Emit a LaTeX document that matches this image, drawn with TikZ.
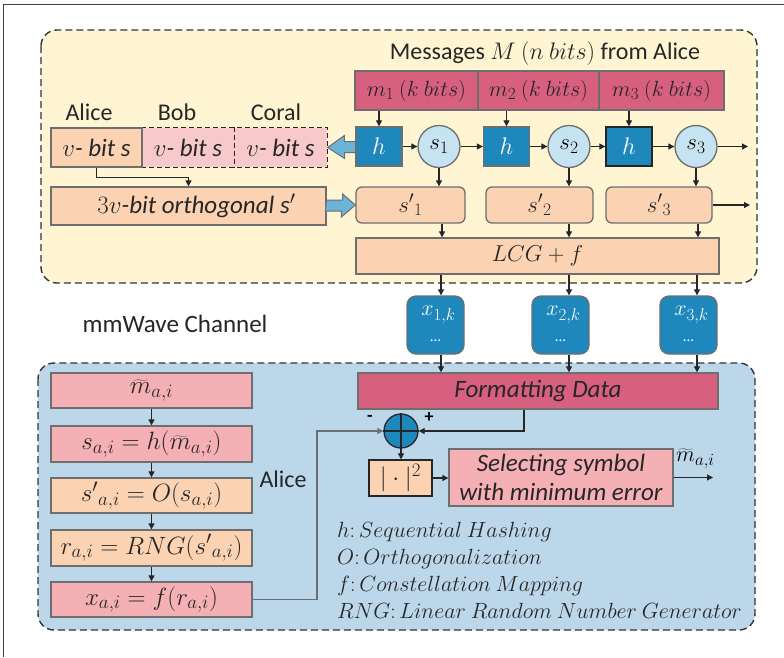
\RequirePackage{fix-cm}
\documentclass[tikz,border=0pt]{standalone}
\usepackage[no-math]{fontspec}
\setmainfont{Carlito}
\usetikzlibrary{arrows.meta,calc}
\DeclareMathSizes{22}{22}{17}{13}
\DeclareMathSizes{23}{23}{17.5}{13}
\DeclareMathSizes{24}{24}{18}{14}
\DeclareMathSizes{25}{25}{19}{15}
\definecolor{yellowbg}{HTML}{FFF5D3}
\definecolor{bluebg}{HTML}{BDD7EA}
\definecolor{rasp}{HTML}{D6607E}
\definecolor{pinkf}{HTML}{F4B0B5}
\definecolor{peach}{HTML}{FBD3B3}
\definecolor{hblue}{HTML}{1E88BC}
\definecolor{circf}{HTML}{C6E3F1}
\definecolor{blockf}{HTML}{6CB4D7}
\definecolor{bgray}{HTML}{6E6E6E}
\definecolor{bobf}{HTML}{F8C9CB}
\tikzset{
  bx/.style={draw=bgray, line width=1.3pt, inner sep=0pt, anchor=center, text=black!85, font=\fontsize{22}{26}\selectfont},
  big/.style={font=\fontsize{25}{29}\selectfont},
  rbx/.style={bx, rounded corners=6pt},
  sc/.style={circle, draw=bgray, line width=1.3pt, fill=circf, minimum size=42pt, inner sep=0pt, font=\fontsize{23}{26}\selectfont},
  arr/.style={-{Triangle[length=6pt,width=6pt]}, line width=1.1pt, draw=black!85},
  arrg/.style={-{Triangle[length=6pt,width=6pt]}, line width=1.1pt, draw=bgray},
  lbl/.style={inner sep=0pt, font=\fontsize{24}{28}\selectfont, text=black!85},
  region/.style={draw=black!80, dashed, dash pattern=on 7pt off 4pt, line width=1.4pt, rounded corners=16pt},
}
\begin{document}
\begin{tikzpicture}[x=1pt,y=-1pt]
\useasboundingbox (0,0) rectangle (784,657);
% frame
\draw[line width=1pt, black!75] (3,657) -- (3,4) -- (784,4);
% regions
\draw[region, fill=yellowbg] (41,30) rectangle (757,283);
\draw[region, fill=bluebg] (38,363) rectangle (755,630);

% top
\node[lbl] (msg) at (545,53) {Messages $M\ (n\ bits)$ from Alice};
\node[bx, fill=rasp, minimum width=123pt, minimum height=39pt] (m1) at (416.5,90.5) {$m_1\ (k\ bits)$};
\node[bx, fill=rasp, minimum width=121pt, minimum height=39pt] (m2) at (538.5,90.5) {$m_2\ (k\ bits)$};
\node[bx, fill=rasp, minimum width=125pt, minimum height=39pt] (m3) at (661.5,90.5) {$m_3\ (k\ bits)$};

\node[bx, fill=hblue, text=white, minimum width=46pt, minimum height=39pt, font=\fontsize{24}{28}\selectfont] (h1) at (379,146.5) {$h$};
\node[bx, fill=hblue, text=white, minimum width=46pt, minimum height=39pt, font=\fontsize{24}{28}\selectfont] (h2) at (506.5,146.5) {$h$};
\node[bx, draw=black!85, fill=hblue, text=white, minimum width=46pt, minimum height=39pt, font=\fontsize{24}{28}\selectfont] (h3) at (629,146.5) {$h$};
\node[sc] (s1) at (439,146.5) {$s_1$};
\node[sc] (s2) at (569,146.5) {$s_2$};
\node[sc] (s3) at (696,146.5) {$s_3$};
\coordinate (sout) at (748,146.5);

\node[rbx, fill=peach, minimum width=109pt, minimum height=36pt, font=\fontsize{23}{26}\selectfont] (sp1) at (410.5,205) {${s'}_1$};
\node[rbx, fill=peach, minimum width=107pt, minimum height=36pt, font=\fontsize{23}{26}\selectfont] (sp2) at (539.5,205) {${s'}_2$};
\node[rbx, fill=peach, minimum width=106pt, minimum height=36pt, font=\fontsize{23}{26}\selectfont] (sp3) at (659,205) {${s'}_3$};
\coordinate (spout) at (750,205);

\node[bx, fill=peach, minimum width=363pt, minimum height=36pt, font=\fontsize{23}{26}\selectfont] (lcg) at (537.5,256) {$LCG+f$};

% Alice Bob Coral
\node[lbl] (la) at (89,112) {Alice};
\node[lbl] (lb) at (177,112) {Bob};
\node[lbl] (lc) at (276,112) {Coral};
\node[bx, big, fill=bobf, draw=none, minimum width=92pt, minimum height=39pt] (vb) at (188,147.5) {$v$\textit{- bit s}};
\node[bx, big, fill=bobf, draw=none, minimum width=93pt, minimum height=39pt] (vc) at (280.5,147.5) {$v$\textit{- bit s}};
\draw[line width=1.5pt, black!85, dash pattern=on 5pt off 3pt] (vb.north west) -- (vc.north east) -- (vc.south east) -- (vb.south west);
\draw[line width=1.5pt, black!85, dash pattern=on 5pt off 3pt] (vb.north east) -- (vb.south east);
\node[bx, big, fill=peach, minimum width=91pt, minimum height=39pt] (va) at (96.5,147.5) {$v$\textit{- bit s}};
\node[bx, big, fill=peach, minimum width=275pt, minimum height=38pt] (ortho) at (188.5,206) {\hspace*{16pt}$3v$\textit{-bit orthogonal s}$'$};

% block arrows
\draw[draw=bgray, line width=1pt, fill=blockf] (h1.west) ++(0,-5) -- ++(-11,0) -- ++(0,-6) -- (vc.east) -- ++(17,11) -- ++(0,-6) -- ++(11,0) -- cycle;
\draw[draw=bgray, line width=1pt, fill=blockf] (ortho.east) ++(0,-6) -- ++(16,0) -- ++(0,-6) -- (sp1.west) -- ++(-14,12) -- ++(0,-6) -- ++(-16,0) -- cycle;

% x boxes
\node[rbx, rounded corners=9pt, fill=hblue, minimum width=57pt, minimum height=58pt] (x1) at (435.5,325) {};
\node[rbx, rounded corners=9pt, fill=hblue, minimum width=57pt, minimum height=58pt] (x2) at (560.5,325) {};
\node[rbx, rounded corners=9pt, fill=hblue, minimum width=57pt, minimum height=58pt] (x3) at (688.5,325) {};
\foreach \n in {1,2,3}{
  \node[inner sep=0pt, text=white, font=\fontsize{22}{26}\selectfont] (xt\n) at ($(x\n)+(3,-10)$) {$x_{\n,k}$};
  \node[inner sep=0pt, text=white, font=\fontsize{15}{18}\selectfont] (xd\n) at ($(x\n)+(0,16)$) {...};
}
\node[lbl, big] (mmw) at (175,324) {mmWave Channel};

% bottom
\node[bx, big, fill=rasp, minimum width=360pt, minimum height=36pt] (fmt) at (538,391) {\textit{Formatting Data}};
\node[circle, draw=black!85, line width=1.3pt, fill=hblue, minimum size=34pt, inner sep=0pt] (sum) at (401,431) {};
\draw[line width=1.3pt, black!85] (sum.north) -- (sum.south) (sum.west) -- (sum.east);
\node[inner sep=0pt, font=\fontsize{18}{20}\selectfont\bfseries] (minus) at (370,418) {-};
\node[inner sep=0pt, font=\fontsize{18}{20}\selectfont\bfseries] (plus) at (429,418) {+};
\node[bx, big, draw=black!85, fill=peach, minimum width=63pt, minimum height=36pt] (abs) at (400.5,478) {$|\cdot|^2$};
\node[bx, fill=pinkf, minimum width=224pt, minimum height=57pt, align=center, font=\fontsize{25}{29}\selectfont] (sel) at (561,477.5) {\textit{Selecting symbol}\\\textit{with minimum error}};
\coordinate (selout) at (713,477.5);
\node[inner sep=0pt, anchor=west, font=\fontsize{22}{26}\selectfont] (mt) at (676,459) {$\widetilde m_{a,i}$};

% left column
\node[bx, big, fill=pinkf, minimum width=201pt, minimum height=35pt] (l1) at (151.5,390.5) {$\widetilde m_{a,i}$};
\node[bx, big, fill=pinkf, minimum width=201pt, minimum height=36pt] (l2) at (151.5,444) {$s_{a,i}=h(\widetilde m_{a,i})$};
\node[bx, big, fill=peach, minimum width=201pt, minimum height=35pt] (l3) at (151.5,495.5) {${s'}_{a,i}=O(s_{a,i})$};
\node[bx, big, fill=peach, minimum width=201pt, minimum height=36pt] (l4) at (151.5,548) {$r_{a,i}=RNG({s'}_{a,i})$};
\node[bx, big, fill=pinkf, minimum width=201pt, minimum height=35pt] (l5) at (151.5,599.5) {$x_{a,i}=f(r_{a,i})$};
\node[lbl] (alice2) at (283,479) {Alice};

% legend
\node[anchor=west, inner sep=0pt, align=left, text=black!85, font=\fontsize{22}{27}\selectfont] (leg) at (337,570.5) {$h\colon Sequential\ Hashing$\\ $O\colon Orthogonalization$\\ $f\colon Constellation\ Mapping$\\ $RNG\colon Linear\ Random\ Number\ Generator$};

% connectors top
\draw[arr] (h1.north |- m1.south) -- (h1.north);
\draw[arr] (h2.north |- m2.south) -- (h2.north);
\draw[arr] (h3.north |- m3.south) -- (h3.north);
\draw[arr] (h1.east) -- (s1.west);
\draw[arr] (s1.east) -- (h2.west);
\draw[arr] (h2.east) -- (s2.west);
\draw[arr] (s2.east) -- (h3.west);
\draw[arr] (h3.east) -- (s3.west);
\draw[arr] (s3.east) -- (sout);
\draw[arr] (s1.south) -- (s1.south |- sp1.north);
\draw[arr] (s2.south) -- (s2.south |- sp2.north);
\draw[arr] (s3.south) -- (s3.south |- sp3.north);
\draw[arr] ([xshift=3pt]s1.south |- sp1.south) -- ([xshift=3pt]s1.south |- lcg.north);
\draw[arr] (s2.south |- sp2.south) -- (s2.south |- lcg.north);
\draw[arr] ([xshift=2pt]s3.south |- sp3.south) -- ([xshift=2pt]s3.south |- lcg.north);
\draw[arr] (sp3.east) -- (spout);
\draw[arr] (va.south) -- ++(0,10) -| (ortho.north);
% LCG to x
\draw[arr] ([xshift=2pt]s1.south |- lcg.south) -- ([xshift=2pt]s1.south |- x1.north);
\draw[arr] (s2.south |- lcg.south) -- (s2.south |- x2.north);
\draw[arr] ([xshift=1pt]s3.south |- lcg.south) -- ([xshift=1pt]s3.south |- x3.north);
\draw[arr] ([xshift=2pt]s1.south |- x1.south) -- ([xshift=2pt]s1.south |- fmt.north);
\draw[arr] (s2.south |- x2.south) -- (s2.south |- fmt.north);
\draw[arr] ([xshift=1pt]s3.south |- x3.south) -- ([xshift=1pt]s3.south |- fmt.north);
% bottom connectors
\draw[arr] ([xshift=-14pt]fmt.south) |- (sum.east);
\coordinate (bend) at (317,599.5);
\draw[arrg] (l5.east) -- (bend) |- (sum.west);
\draw[arr] (sum.south) -- (sum.south |- abs.north);
\draw[arr] (abs.east) -- (abs.east -| sel.west);
\draw[arr] (sel.east) -- (selout);
\draw[arr] (l1.south) -- (l2.north);
\draw[arr] (l2.south) -- (l3.north);
\draw[arr] (l3.south) -- (l4.north);
\draw[arr] (l4.south) -- (l5.north);
\end{tikzpicture}
\end{document}
